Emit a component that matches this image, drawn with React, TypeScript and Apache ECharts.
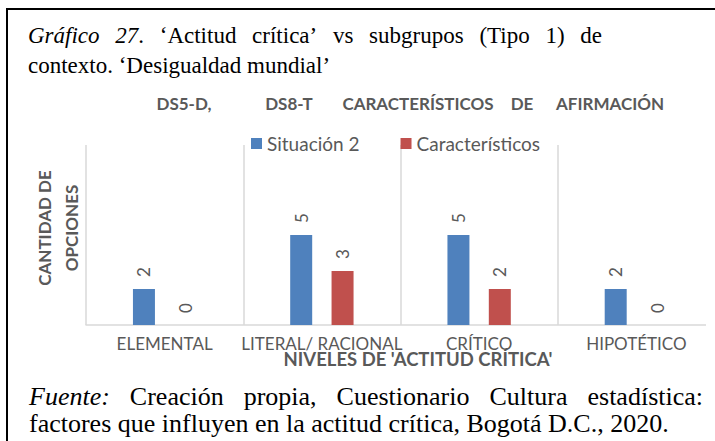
import React, { useEffect, useRef } from "react";
import * as echarts from "echarts";

const categories = ["ELEMENTAL", "LITERAL/ RACIONAL", "CRÍTICO", "HIPOTÉTICO"];
const situacion2 = [2, 5, 5, 2];
const caracteristicos = [0, 3, 2, 0];
const seriesNames = ["Situación 2", "Característicos"];

// words: [text, italic]
const titleLine1: [string, boolean][][] = [
  [["Gráfico", true]],
  [["27", true], [".", false]],
  [["‘Actitud", false]],
  [["crítica’", false]],
  [["vs", false]],
  [["subgrupos", false]],
  [["(Tipo", false]],
  [["1)", false]],
  [["de", false]],
];
const titleLine2 = "contexto. ‘Desigualdad mundial’";
const chartTitleWords = ["DS5-D,", "DS8-T", "CARACTERÍSTICOS", "DE", "AFIRMACIÓN"];
const xName = "NIVELES DE 'ACTITUD CRÍTICA'";
const yName = "CANTIDAD DE\nOPCIONES";
const footerLine1: [string, boolean][][] = [
  [["Fuente:", true]],
  [["Creación", false]],
  [["propia,", false]],
  [["Cuestionario", false]],
  [["Cultura", false]],
  [["estadística:", false]],
];
const footerLine2 = "factores que influyen en la actitud crítica, Bogotá D.C., 2020.";

const SERIF = "'Liberation Serif', 'Times New Roman', serif";
const SANS = "Lato, 'Open Sans', sans-serif";
const GRAY = "#595959";
const TITLE_FS = 23;
const FOOT_FS = 26;

function measure(segs: [string, boolean][], size: number) {
  const c = document.createElement("canvas").getContext("2d");
  if (!c) return 0;
  let w = 0;
  for (const [t, it] of segs) {
    c.font = `${it ? "italic " : ""}${size}px "Liberation Serif"`;
    w += c.measureText(t).width;
  }
  return w;
}

function justified(words: [string, boolean][][], x0: number, x1: number, yMid: number, fs: number) {
  const widths = words.map((w) => measure(w, fs));
  const total = widths.reduce((a, b) => a + b, 0);
  const gap = (x1 - x0 - total) / (words.length - 1);
  let x = x0;
  return words.map((w, i) => {
    const el = {
      type: "text",
      x,
      y: yMid,
      style: {
        text: w.map(([t, it]) => (it ? `{i|${t}}` : t)).join(""),
        fontFamily: SERIF,
        fontSize: fs,
        fill: "#000",
        verticalAlign: "middle",
        rich: { i: { fontStyle: "italic", fontFamily: SERIF, fontSize: fs, fill: "#000" } },
      },
    };
    x += widths[i] + gap;
    return el;
  });
}

export default function App() {
  const ref = useRef<HTMLDivElement>(null);
  useEffect(() => {
    if (!ref.current) return;
    const chart = echarts.init(ref.current, null, { renderer: "svg" });
    const titleCenters = [184, 289, 418, 522, 610];
    const barLabel = {
      show: true,
      position: "top",
      rotate: 90,
      align: "left",
      verticalAlign: "middle",
      distance: 12,
      color: GRAY,
      fontSize: 17,
      fontFamily: SANS,
    };
    chart.setOption({
      animation: false,
      backgroundColor: "#ffffff",
      textStyle: { fontFamily: SANS },
      grid: { left: 86, top: 145, width: 640, height: 180, containLabel: false },
      legend: {
        left: 246,
        top: 129,
        itemWidth: 11,
        itemHeight: 11,
        itemGap: 41,
        icon: "rect",
        textStyle: { color: GRAY, fontSize: 19, fontFamily: SANS },
        data: seriesNames,
      },
      xAxis: {
        type: "category",
        data: categories,
        axisLine: { show: true, lineStyle: { color: "#D9D9D9", width: 1.5 } },
        axisTick: { show: false },
        splitLine: { show: true, lineStyle: { color: "#D9D9D9", width: 1.5 } },
        axisLabel: { color: GRAY, fontSize: 17, lineHeight: 14, margin: 11, interval: 0, fontFamily: SANS },
      },
      yAxis: { type: "value", min: 0, max: 10, show: false },
      series: [
        {
          name: seriesNames[0],
          type: "bar",
          data: situacion2,
          barWidth: 22,
          barGap: "88%",
          itemStyle: { color: "#4F81BD" },
          label: barLabel,
        },
        {
          name: seriesNames[1],
          type: "bar",
          data: caracteristicos,
          barWidth: 22,
          itemStyle: { color: "#C0504D" },
          label: barLabel,
        },
      ],
      graphic: [
        { type: "rect", shape: { x: 706, y: 138, width: 12, height: 195 }, style: { fill: "#ffffff" }, z: 100 },
        { type: "line", shape: { x1: 7, y1: 9, x2: 715, y2: 9 }, style: { stroke: "#000", lineWidth: 2 }, z: 100 },
        { type: "line", shape: { x1: 7, y1: 8, x2: 7, y2: 441 }, style: { stroke: "#000", lineWidth: 2 }, z: 100 },
        ...justified(titleLine1, 28, 602, 35, TITLE_FS),
        {
          type: "text",
          x: 28,
          y: 65,
          style: { text: titleLine2, fontFamily: SERIF, fontSize: TITLE_FS, fill: "#000", verticalAlign: "middle" },
        },
        ...chartTitleWords.map((w, i) => ({
          type: "text",
          x: titleCenters[i],
          y: 103,
          style: {
            text: w,
            fontFamily: SANS,
            fontWeight: "bold",
            fontSize: 17,
            fill: GRAY,
            align: "center",
            verticalAlign: "middle",
          },
        })),
        {
          type: "text",
          x: 418,
          y: 359,
          style: {
            text: xName,
            fontFamily: SANS,
            fontWeight: "bold",
            fontSize: 18.5,
            lineHeight: 14,
            fill: GRAY,
            align: "center",
            verticalAlign: "middle",
          },
        },
        {
          type: "text",
          x: 58,
          y: 228,
          rotation: Math.PI / 2,
          style: {
            text: yName,
            fontFamily: SANS,
            fontWeight: "bold",
            fontSize: 17,
            lineHeight: 27,
            fill: GRAY,
            align: "center",
            verticalAlign: "middle",
          },
        },
        ...justified(footerLine1, 29, 703, 396, FOOT_FS),
        {
          type: "text",
          x: 29,
          y: 423,
          style: { text: footerLine2, fontFamily: SERIF, fontSize: FOOT_FS, fill: "#000", verticalAlign: "middle" },
        },
      ],
    });
    return () => chart.dispose();
  }, []);
  return (
    <div
      ref={ref}
      style={{ position: "fixed", left: 0, top: 0, width: 715, height: 441, background: "#fff" }}
    />
  );
}
